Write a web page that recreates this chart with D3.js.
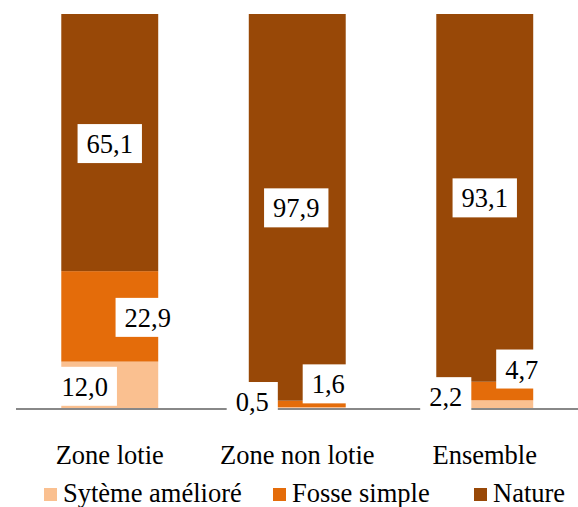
<!DOCTYPE html>
<html>
<head>
<meta charset="utf-8">
<script src="https://cdn.jsdelivr.net/npm/d3@7"></script>
<style>
    body { margin: 0; background: #fff; }
</style>
</head>
<body>
<svg id="svg0"></svg>
<script>
let categories = ['Zone lotie', 'Zone non lotie', 'Ensemble'];
let seriesNames = ['Sytème amélioré', 'Fosse simple', 'Nature'];
let systemeAmeliore = [12.0, 0.5, 2.2];
let fosseSimple = [22.9, 1.6, 4.7];
let nature = [65.1, 97.9, 93.1];

let colors = ['#FAC090', '#E46C0A', '#984807'];
// label nudges (px) from the middle of each segment, [series][category]
let labelShift = [
    [[-25, 1], [-45, -6.5], [-39, -8]],
    [[38, 1], [31, -20], [37, -22]],
    [[0, 1], [-1, 0.5], [0, 0]]
];

let width = 578, height = 507;
let fontSize = 26.5;
let fontFamily = "'Liberation Serif', Tinos, 'Times New Roman', Times, 'DejaVu Serif', serif";

let svg = d3.select('#svg0').attr('width', width).attr('height', height);

let table = categories.map((c, i)=>{
    return {cat: c, s0: systemeAmeliore[i], s1: fosseSimple[i], s2: nature[i]};
});
let stacked = d3.stack().keys(['s0', 's1', 's2'])(table);

// scales
let xScale = d3.scaleBand().domain(categories).range([16, 578.5]).paddingInner(0.483).paddingOuter(0.2415);
let yScale = d3.scaleLinear().domain([0, 100]).range([409, 14]);

// bars
let g = svg.append('g');
stacked.forEach((layer, si)=>{
    g.selectAll('.bar' + si).data(layer).enter().append('rect')
        .attr('class', 'bar' + si)
        .attr('x', (d, i)=>xScale(categories[i]))
        .attr('y', d=>yScale(d[1]))
        .attr('width', xScale.bandwidth())
        .attr('height', d=>yScale(d[0]) - yScale(d[1]))
        .style('fill', colors[si]);
});

// axis line
svg.append('line')
    .attr('x1', xScale.range()[0]).attr('x2', xScale.range()[1])
    .attr('y1', yScale(0)).attr('y2', yScale(0))
    .style('stroke', '#888888').style('stroke-width', 2);

// data labels with white boxes
let fmt = v=>v.toFixed(1).replace('.', ',');
stacked.forEach((layer, si)=>{
    layer.forEach((d, i)=>{
        let cx = xScale(categories[i]) + xScale.bandwidth()/2 + labelShift[si][i][0];
        let cy = (yScale(d[0]) + yScale(d[1]))/2 + labelShift[si][i][1];
        let lg = svg.append('g').attr('transform', 'translate(' + cx + ',' + cy + ')');
        let box = lg.append('rect').style('fill', '#fff');
        let t = lg.append('text')
            .attr('text-anchor', 'middle')
            .attr('y', 9.5)
            .style('font-family', fontFamily)
            .style('font-size', fontSize + 'px')
            .style('fill', '#000')
            .text(fmt(d[1] - d[0]));
        let w = t.node().getComputedTextLength() + 18;
        box.attr('x', -w/2).attr('y', -19.5).attr('width', w).attr('height', 39);
    });
});

// category labels
svg.selectAll('.cat').data(categories).enter().append('text')
    .attr('class', 'cat')
    .attr('x', d=>xScale(d) + xScale.bandwidth()/2)
    .attr('y', 463.5)
    .attr('text-anchor', 'middle')
    .style('font-family', fontFamily)
    .style('font-size', fontSize + 'px')
    .text(d=>d);

// legend
let legendX = [44, 273, 474];
let leg = svg.selectAll('.legend').data(seriesNames).enter().append('g')
    .attr('class', 'legend')
    .attr('transform', (d, i)=>'translate(' + legendX[i] + ',0)');
leg.append('rect').attr('x', 0).attr('y', 488).attr('width', 13).attr('height', 13)
    .style('fill', (d, i)=>colors[i]);
leg.append('text').attr('x', 19).attr('y', 501.5)
    .style('font-family', fontFamily)
    .style('font-size', fontSize + 'px')
    .text(d=>d);
</script>
</body>
</html>
